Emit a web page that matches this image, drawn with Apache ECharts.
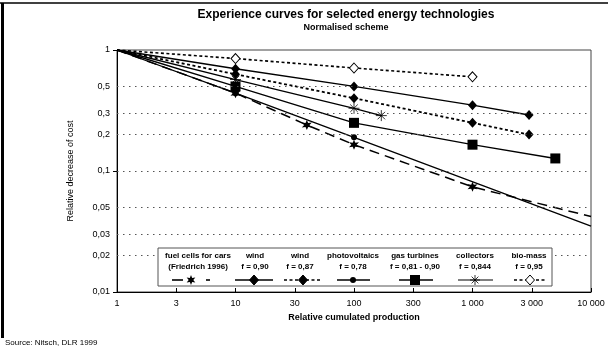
<!DOCTYPE html>
<html><head><meta charset="utf-8">
<script src="https://cdn.jsdelivr.net/npm/echarts@6/dist/echarts.min.js"></script>
<style>html,body{margin:0;padding:0;background:#fff}#c{width:608px;height:352px}</style>
</head><body><div id="c"></div>
<script>
// ---- tick labels ----
const xTickLabels = ['1', '3', '10', '30', '100', '300', '1 000', '3 000', '10 000'];
const yTickValues = [1, 0.5, 0.3, 0.2, 0.1, 0.05, 0.03, 0.02, 0.01];
const yTickLabels = ['1', '0,5', '0,3', '0,2', '0,1', '0,05', '0,03', '0,02', '0,01'];

// ---- series data (x = relative cumulated production, y = relative cost) ----
const fuelX = [1, 10, 40, 100, 1000, 10000];
const fuelY = [1, 0.44, 0.24, 0.165, 0.074, 0.042];
const fuelMark = [0, 1, 1, 1, 1, 0];

const wind90X = [1, 10, 100, 1000, 3000];
const wind90Y = [1, 0.70, 0.50, 0.35, 0.29];
const wind90Mark = [0, 1, 1, 1, 1];

const wind87X = [1, 10, 100, 1000, 3000];
const wind87Y = [1, 0.63, 0.40, 0.25, 0.20];
const wind87Mark = [0, 1, 1, 1, 1];

const pvX = [1, 10, 100, 10000];
const pvY = [1, 0.44, 0.19, 0.035];
const pvMark = [0, 1, 1, 0];

const gasX = [1, 10, 100, 1000, 5000];
const gasY = [1, 0.50, 0.25, 0.165, 0.127];
const gasMark = [0, 1, 1, 1, 1];

const collX = [1, 10, 100, 170];
const collY = [1, 0.57, 0.33, 0.287];
const collMark = [0, 1, 1, 1];

const bioX = [1, 10, 100, 1000];
const bioY = [1, 0.85, 0.71, 0.60];
const bioMark = [0, 1, 1, 1];

// legend texts
const legendNames = ['fuel cells for cars', 'wind', 'wind', 'photovoltaics', 'gas turbines', 'collectors', 'bio-mass'];
const legendSub = ['(Friedrich 1996)', 'f = 0,90', 'f = 0,87', 'f = 0,78', 'f = 0,81 - 0,90', 'f = 0,844', 'f = 0,95'];

// ---- styling helpers ----
const FONT = 'Liberation Sans, Arial, Helvetica, sans-serif';
function starPts(cx, cy, R, r) {
  const pts = [];
  for (let i = 0; i < 12; i++) {
    const a = Math.PI / 6 * i - Math.PI / 2;
    const rad = i % 2 ? r : R;
    pts.push([cx + rad * Math.cos(a), cy + rad * Math.sin(a)]);
  }
  return pts;
}
const starPath = 'path://' + starPts(5, 5, 5, 2.3).map((p, i) => (i ? 'L' : 'M') + p[0].toFixed(2) + ',' + p[1].toFixed(2)).join('') + 'Z';
const asteriskPath = 'path://M0,5L10,5M5,0L5,10M1.6,1.6L8.4,8.4M8.4,1.6L1.6,8.4';

function mk(name, xs, ys, marks, sym, size, lineType, lineWidth, itemStyle, z) {
  return {
    name, type: 'line', z: z || 3,
    data: xs.map((x, i) => ({ value: [x, ys[i]], symbol: marks[i] ? sym : 'none' })),
    symbol: sym, symbolSize: size, showAllSymbol: true,
    lineStyle: { color: '#000', width: lineWidth, type: lineType },
    itemStyle: itemStyle,
    emphasis: { disabled: true }
  };
}

const blackFill = { color: '#000', borderColor: '#000', borderWidth: 0 };

const series = [
  {
    name: 'grid', type: 'line', data: [], z: 1,
    markLine: {
      silent: true, symbol: ['none', 'none'], animation: false,
      lineStyle: { type: [1.5, 4.5], color: '#555', width: 1 },
      label: { position: 'start', distance: 7, color: '#000', fontSize: 9, fontFamily: FONT, formatter: p => p.name },
      data: yTickValues.map((v, i) => ({
        yAxis: v, name: yTickLabels[i],
        lineStyle: (i === 0 || i === yTickValues.length - 1) ? { color: 'rgba(0,0,0,0)' } : undefined
      }))
    }
  },
  mk('bio-mass', bioX, bioY, bioMark, 'diamond', [9, 10], [3, 2.5], 1.6, { color: '#fff', borderColor: '#000', borderWidth: 1 }),
  mk('wind 0,90', wind90X, wind90Y, wind90Mark, 'diamond', [9, 10], 'solid', 1.4, blackFill),
  mk('wind 0,87', wind87X, wind87Y, wind87Mark, 'diamond', [9, 10], [3, 2.5], 1.8, blackFill),
  mk('collectors', collX, collY, collMark, asteriskPath, 11, 'solid', 1.3, { color: '#000', borderColor: '#000', borderWidth: 0.8 }),
  mk('gas turbines', gasX, gasY, gasMark, 'rect', [10, 10], 'solid', 1.4, blackFill),
  mk('photovoltaics', pvX, pvY, pvMark, 'circle', 6, 'solid', 1.3, blackFill),
  mk('fuel cells', fuelX, fuelY, fuelMark, starPath, 10, [10, 6], 1.5, blackFill)
];

// ---- legend (graphic) ----
const legCx = [198, 255, 300, 353, 415, 475, 529];
const LY = 280;
const lg = [];
lg.push({ type: 'rect', shape: { x: 158, y: 248, width: 394, height: 38 }, style: { fill: '#fff', stroke: '#555', lineWidth: 1 } });
legendNames.forEach((t, i) => {
  lg.push({ type: 'text', x: legCx[i], y: 256, style: { text: t, align: 'center', verticalAlign: 'middle', fontSize: 8, fontWeight: 'bold', fontFamily: FONT, fill: '#000' } });
  lg.push({ type: 'text', x: legCx[i], y: 267, style: { text: legendSub[i], align: 'center', verticalAlign: 'middle', fontSize: 8, fontWeight: 'bold', fontFamily: FONT, fill: '#000' } });
});
function hline(x1, x2, dash, w) {
  return { type: 'line', shape: { x1, y1: LY, x2, y2: LY }, style: { stroke: '#000', lineWidth: w || 1.4, lineDash: dash || null } };
}
function diamond(cx, fill) {
  return { type: 'polygon', shape: { points: [[cx, LY - 5], [cx + 4.5, LY], [cx, LY + 5], [cx - 4.5, LY]] }, style: { fill: fill, stroke: '#000', lineWidth: 1 } };
}
// fuel cells
lg.push(hline(172, 183, null, 1.6));
lg.push({ type: 'polygon', shape: { points: starPts(191, LY, 5, 2.3) }, style: { fill: '#000' } });
lg.push(hline(206, 210, null, 1.6));
// wind 0.90
lg.push(hline(235, 273)); lg.push(diamond(254, '#000'));
// wind 0.87
lg.push(hline(284, 321, [3, 2.5], 1.6)); lg.push(diamond(303, '#000'));
// pv
lg.push(hline(337, 370)); lg.push({ type: 'circle', shape: { cx: 353, cy: LY, r: 3 }, style: { fill: '#000' } });
// gas turbines
lg.push(hline(399, 433)); lg.push({ type: 'rect', shape: { x: 410, y: LY - 5, width: 10, height: 10 }, style: { fill: '#000' } });
// collectors
lg.push(hline(458, 493, null, 1.2));
[[0, 5, 10, 5], [5, 0, 5, 10], [1.6, 1.6, 8.4, 8.4], [8.4, 1.6, 1.6, 8.4]].forEach(s => {
  lg.push({ type: 'line', shape: { x1: 470 + s[0], y1: LY - 5 + s[1], x2: 470 + s[2], y2: LY - 5 + s[3] }, style: { stroke: '#000', lineWidth: 0.8 } });
});
// bio-mass
lg.push(hline(514, 546, [3, 2.5], 1.4)); lg.push(diamond(530, '#fff'));
lg.forEach((el, i) => { el.z = 100 + (i === 0 ? 0 : 1); el.zlevel = 0; });

const graphic = lg.concat([
  { type: 'text', x: 346, y: 15, z: 100, style: { text: 'Experience curves for selected energy technologies', align: 'center', verticalAlign: 'middle', fontSize: 12, fontWeight: 'bold', fontFamily: FONT, fill: '#000' } },
  { type: 'text', x: 346, y: 28, z: 100, style: { text: 'Normalised scheme', align: 'center', verticalAlign: 'middle', fontSize: 9, fontWeight: 'bold', fontFamily: FONT, fill: '#000' } },
  { type: 'text', x: 5, y: 343, z: 100, style: { text: 'Source: Nitsch, DLR 1999', align: 'left', verticalAlign: 'middle', fontSize: 8, fontFamily: FONT, fill: '#000' } },
  { type: 'line', z: 100, shape: { x1: 0, y1: 3, x2: 608, y2: 3 }, style: { stroke: '#000', lineWidth: 1.5 } },
  { type: 'line', z: 100, shape: { x1: 2.5, y1: 3, x2: 2.5, y2: 338 }, style: { stroke: '#000', lineWidth: 3 } }
]);

const chart = echarts.init(document.getElementById('c'), null, { renderer: 'canvas' });
chart.setOption({
  animation: false,
  backgroundColor: '#fff',
  grid: { left: 117, right: 17, top: 50, bottom: 60, show: true, borderColor: '#444', borderWidth: 1 },
  xAxis: {
    type: 'log', logBase: Math.sqrt(10), min: 1, max: 10000, splitNumber: 8,
    axisLine: { show: true, lineStyle: { color: '#000', width: 1 } },
    axisTick: { show: true, inside: true, length: 4, lineStyle: { color: '#000' } },
    axisLabel: { color: '#000', fontSize: 9, fontFamily: FONT, margin: 7, showMinLabel: true, showMaxLabel: true,
      formatter: v => xTickLabels[Math.round(2 * Math.log10(v))] },
    splitLine: { show: false }, minorTick: { show: false },
    name: 'Relative cumulated production', nameLocation: 'middle', nameGap: 21,
    nameTextStyle: { color: '#000', fontSize: 9, fontWeight: 'bold', fontFamily: FONT }
  },
  yAxis: {
    type: 'log', logBase: 10, min: 0.01, max: 1,
    axisLine: { show: true, lineStyle: { color: '#000', width: 1 } },
    axisTick: { show: true, length: 4, lineStyle: { color: '#000' } },
    axisLabel: { show: false },
    splitLine: { show: false },
    name: 'Relative decrease of cost', nameLocation: 'middle', nameGap: 42, nameRotate: 90,
    nameTextStyle: { color: '#000', fontSize: 9, fontFamily: FONT }
  },
  series: series,
  graphic: graphic
});
</script>
</body></html>
